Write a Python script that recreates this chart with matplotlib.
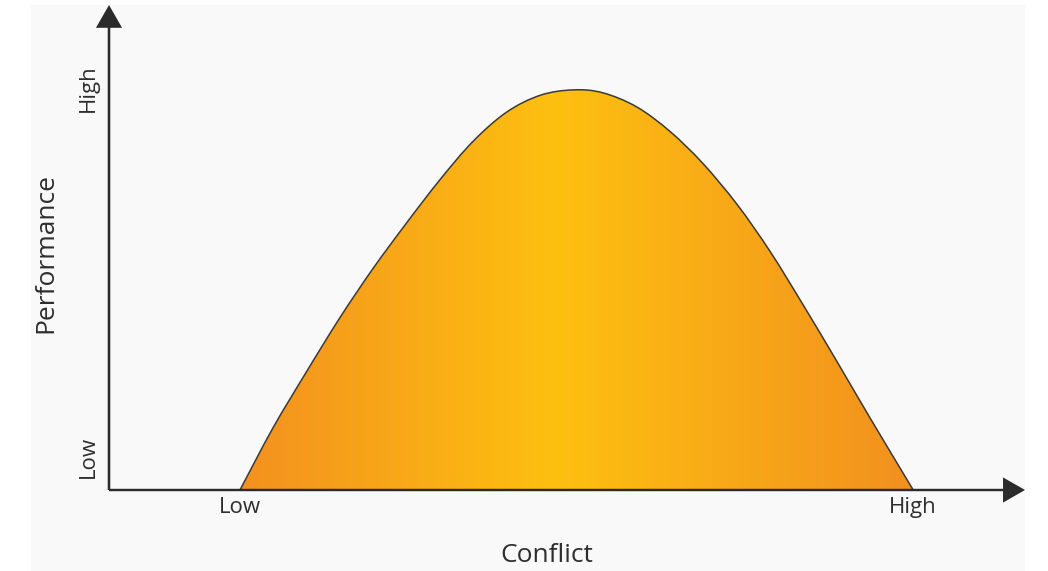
import numpy as np
import matplotlib
matplotlib.use("Agg")
import matplotlib.pyplot as plt
from matplotlib.colors import LinearSegmentedColormap
from matplotlib.patches import Rectangle, PathPatch
from matplotlib.path import Path

plt.rcParams['font.family'] = ['Open Sans', 'DejaVu Sans']

# curve, both axes run 0..100 (arrow tips at 100)
conflict = [14.3, 17.9, 21.6, 25.2, 28.8, 32.5, 36.1, 39.7, 43.4, 47.1, 50.7,
            53.9, 57.6, 61.2, 64.8, 68.6, 72.2, 75.8, 79.5, 83.1, 87.8]
performance = [0.0, 12.8, 24.5, 35.5, 45.6, 55.1, 63.9, 71.8, 77.9, 81.4, 82.5,
               81.9, 79.0, 74.0, 67.4, 58.8, 49.1, 38.1, 26.4, 14.8, 0.0]

x_ticks = [14.3, 87.8]
x_tick_labels = ['Low', 'High']
y_ticks = [6.8, 82.9]
y_tick_labels = ['Low', 'High']

text_col = '#2e2e2e'
axis_col = '#2b2b2b'


def smooth_path(xs, ys, close=False):
    # bezier path through the points (catmull-rom tangents)
    p = np.column_stack([xs, ys]).astype(float)
    n = len(p)
    verts = [p[0]]
    codes = [Path.MOVETO]
    for i in range(n - 1):
        p0 = p[i - 1] if i > 0 else p[i]
        p3 = p[i + 2] if i + 2 < n else p[i + 1]
        c1 = p[i] + (p[i + 1] - p0) / 6.0
        c2 = p[i + 1] - (p3 - p[i]) / 6.0
        verts += [c1, c2, p[i + 1]]
        codes += [Path.CURVE4] * 3
    if close:
        verts.append(p[0])
        codes.append(Path.CLOSEPOLY)
    return Path(verts, codes)


fig = plt.figure(figsize=(10.48, 5.71), dpi=100)
fig.patch.set_facecolor('white')
fig.patches.append(Rectangle((31 / 1048, 0), (1025 - 31) / 1048, 566 / 571,
                             transform=fig.transFigure, facecolor='#f9f9f9',
                             edgecolor='none', zorder=-10))

ax = fig.add_axes([109 / 1048, 81 / 571, 916 / 1048, 485 / 571])
ax.set_xlim(0, 100)
ax.set_ylim(0, 100)
ax.patch.set_alpha(0)
for s in ax.spines.values():
    s.set_visible(False)

# gradient fill clipped to the curve
cmap = LinearSegmentedColormap.from_list(
    'bump', [(0.0, '#f3911f'), (0.47, '#fdc010'), (1.0, '#f2901f')])
grad = np.linspace(0, 1, 256).reshape(1, -1)
area = PathPatch(smooth_path(conflict, performance, close=True),
                 facecolor='none', edgecolor='none')
ax.add_patch(area)
im = ax.imshow(grad, cmap=cmap, aspect='auto', origin='lower',
               extent=[conflict[0], conflict[-1], 0, max(performance) + 1],
               zorder=1)
im.set_clip_path(area)
ax.add_patch(PathPatch(smooth_path(conflict, performance), facecolor='none',
                       edgecolor='#3a3a3a', lw=1.1, zorder=2))

# axes with arrow heads
ax.arrow(0, 0, 100, 0, width=0.5, head_width=5.2, head_length=2.4,
         length_includes_head=True, color=axis_col, lw=0, clip_on=False, zorder=3)
ax.arrow(0, 0, 0, 100, width=0.28, head_width=2.85, head_length=4.7,
         length_includes_head=True, color=axis_col, lw=0, clip_on=False, zorder=3)

ax.set_xticks(x_ticks, x_tick_labels)
ax.set_yticks(y_ticks, y_tick_labels, rotation=90, va='center')
ax.tick_params(axis='both', length=0, labelsize=16, labelcolor=text_col)
ax.tick_params(axis='x', pad=5)
ax.tick_params(axis='y', pad=7)

ax.set_xlabel('Conflict', fontsize=19, color=text_col, va='center')
ax.xaxis.set_label_coords(0.478, -0.136)
ax.set_ylabel('Performance', fontsize=19, color=text_col, va='center')
ax.yaxis.set_label_coords(-0.069, 0.489)

fig.savefig('out.png', dpi=100, facecolor='white')
